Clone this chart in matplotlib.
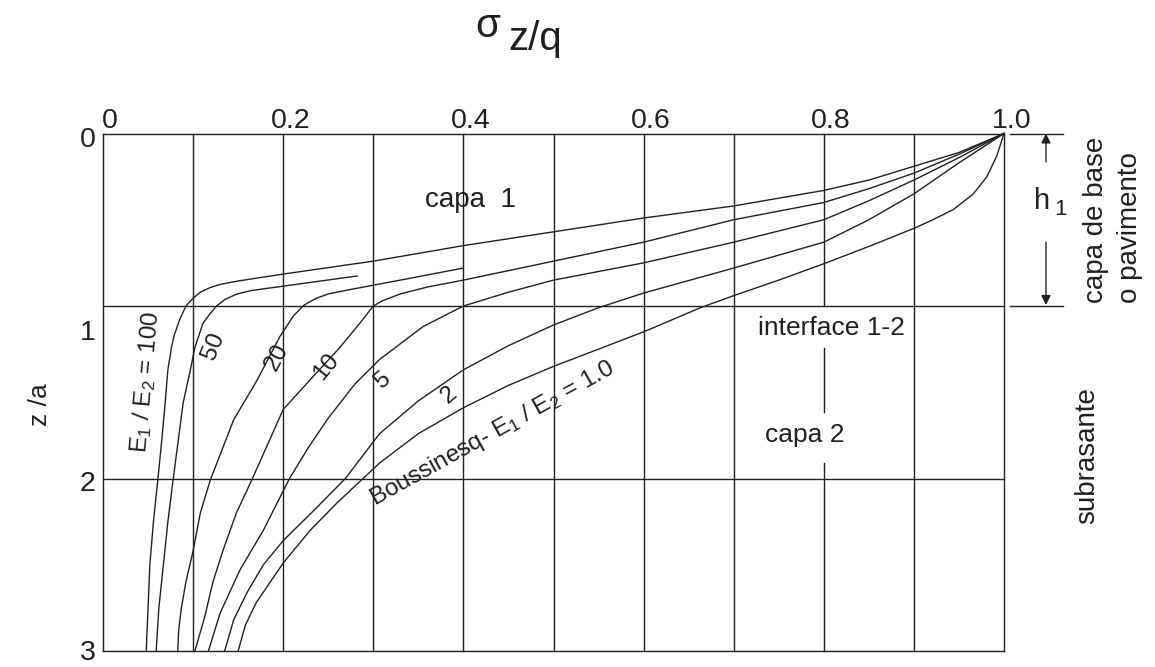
import matplotlib
matplotlib.use("Agg")
import matplotlib.pyplot as plt

plt.rcParams["font.family"] = ["Liberation Sans", "DejaVu Sans"]
plt.rcParams["mathtext.fontset"] = "custom"
plt.rcParams["mathtext.rm"] = "Liberation Sans"
plt.rcParams["mathtext.it"] = "Liberation Sans:italic"

# sigma_z/q (s) against depth z/a (z), one pair per curve
s_100 = [1.0, 0.95, 0.9, 0.85, 0.8, 0.7, 0.6, 0.5, 0.4, 0.3, 0.2, 0.15, 0.13, 0.119, 0.108,
         0.1, 0.092, 0.085, 0.079, 0.076, 0.072, 0.069, 0.065, 0.061, 0.056, 0.052, 0.05, 0.048]
z_100 = [0.0, 0.11, 0.19, 0.27, 0.33, 0.42, 0.49, 0.57, 0.65, 0.74, 0.815, 0.855, 0.875, 0.893, 0.92,
         0.955, 1.0, 1.08, 1.17, 1.24, 1.37, 1.56, 1.79, 2.0, 2.25, 2.5, 2.75, 3.0]

s_50 = [0.282, 0.2, 0.165, 0.149, 0.136, 0.126, 0.118, 0.111, 0.102, 0.097, 0.089, 0.078,
        0.072, 0.067, 0.062, 0.059]
z_50 = [0.826, 0.885, 0.91, 0.93, 0.96, 1.0, 1.05, 1.10, 1.24, 1.37, 1.56, 2.0,
        2.25, 2.5, 2.75, 3.0]

s_20 = [0.4, 0.33, 0.274, 0.25, 0.237, 0.228, 0.222, 0.211, 0.196, 0.171, 0.145, 0.119,
        0.108, 0.1, 0.092, 0.087, 0.084, 0.083]
z_20 = [0.78, 0.85, 0.905, 0.93, 0.955, 0.98, 1.0, 1.06, 1.18, 1.43, 1.66, 2.01,
        2.2, 2.42, 2.6, 2.75, 2.88, 3.0]

s_10 = [1.0, 0.95, 0.9, 0.85, 0.8, 0.7, 0.6, 0.5, 0.4, 0.36, 0.33, 0.31, 0.3, 0.285, 0.263,
        0.233, 0.2, 0.165, 0.148, 0.133, 0.122, 0.113, 0.102]
z_10 = [0.0, 0.12, 0.23, 0.32, 0.40, 0.50, 0.63, 0.74, 0.85, 0.89, 0.93, 0.97, 1.0, 1.1, 1.24,
        1.41, 1.6, 2.01, 2.2, 2.42, 2.6, 2.8, 3.0]

s_5 = [1.0, 0.95, 0.9, 0.85, 0.8, 0.7, 0.6, 0.5, 0.45, 0.4, 0.355, 0.307, 0.28, 0.25, 0.228,
       0.207, 0.178, 0.152, 0.13, 0.117]
z_5 = [0.0, 0.14, 0.27, 0.39, 0.50, 0.63, 0.75, 0.85, 0.92, 1.0, 1.12, 1.31, 1.45, 1.65, 1.82,
       2.0, 2.3, 2.53, 2.78, 3.0]

s_2 = [1.0, 0.95, 0.9, 0.85, 0.8, 0.7, 0.6, 0.55, 0.5, 0.45, 0.4, 0.35, 0.307, 0.269, 0.235,
       0.2, 0.178, 0.16, 0.145, 0.135]
z_2 = [0.0, 0.17, 0.35, 0.50, 0.63, 0.78, 0.925, 1.01, 1.11, 1.23, 1.37, 1.55, 1.74, 2.0, 2.18,
       2.36, 2.5, 2.66, 2.82, 3.0]

s_b = [1.0, 0.992, 0.981, 0.966, 0.944, 0.921, 0.9, 0.85, 0.8, 0.75, 0.7, 0.663, 0.6, 0.55,
       0.5, 0.45, 0.4, 0.35, 0.307, 0.26, 0.23, 0.2, 0.17, 0.158, 0.15]
z_b = [0.0, 0.13, 0.25, 0.35, 0.44, 0.50, 0.55, 0.655, 0.755, 0.85, 0.94, 1.01, 1.15, 1.25,
       1.35, 1.46, 1.59, 1.74, 1.91, 2.14, 2.3, 2.49, 2.72, 2.85, 3.0]

x_ticks = [0, 0.2, 0.4, 0.6, 0.8, 1.0]
x_tick_labels = ["0", "0.2", "0.4", "0.6", "0.8", "1.0"]
z_ticks = [0, 1, 2, 3]

INK = "#231f20"
LW = 1.0

fig = plt.figure(figsize=(11.55, 6.67), dpi=100)
ax = fig.add_axes([103 / 1155, 1 - 651 / 667, 901 / 1155, (651 - 133.5) / 667])
ax.set_xlim(0, 1.0)
ax.set_ylim(3, 0)
ax.axis("off")

# grid
for g in [0.0, 0.1, 0.2, 0.3, 0.4, 0.5, 0.6, 0.7, 0.9, 1.0]:
    ax.plot([g, g], [0, 3], color=INK, lw=LW, clip_on=False)
# the 0.8 line is broken around "interface 1-2" and "capa 2"
for z0, z1 in [(0, 1), (1.243, 1.614), (1.91, 3)]:
    ax.plot([0.8, 0.8], [z0, z1], color=INK, lw=LW, clip_on=False)
for zz in z_ticks:
    ax.plot([0, 1], [zz, zz], color=INK, lw=LW, clip_on=False)

for s, z in [(s_100, z_100), (s_50, z_50), (s_20, z_20), (s_10, z_10),
             (s_5, z_5), (s_2, z_2), (s_b, z_b)]:
    ax.plot(s, z, color=INK, lw=LW, solid_joinstyle="round", clip_on=False)

# tick labels
for x, lab in zip(x_ticks, x_tick_labels):
    ax.text(x + 0.008, -0.032, lab, ha="center", va="baseline", fontsize=20.5,
            color=INK, clip_on=False)
for zz, zc in zip(z_ticks, [0.038, 1.157, 2.03, 3.01]):
    ax.text(-0.017, zc, str(zz), ha="center", va="center", fontsize=20.5, color=INK,
            clip_on=False)

# axis titles
fig.text(475 / 1155, 1 - 26 / 667, "σ", fontsize=29, color=INK, ha="left", va="center")
fig.text(508 / 1155, 1 - 50 / 667, "z/q", fontsize=29, color=INK, ha="left", va="baseline")
fig.text(40 / 1155, 1 - 405 / 667, "z /a", fontsize=19, color=INK, ha="center",
         va="center", rotation=90)

# curve labels
lab_kw = dict(fontsize=17.5, color=INK, ha="center", va="center")
ax.text(0.048, 1.44, "E$_1$ / E$_2$ = 100", rotation=85, **lab_kw)
ax.text(0.123, 1.232, "50", rotation=68, **lab_kw)
ax.text(0.193, 1.296, "20", rotation=62, **lab_kw)
ax.text(0.2475, 1.354, "10", rotation=50, **lab_kw)
ax.text(0.311, 1.43, "5", rotation=42, **lab_kw)
ax.text(0.384, 1.516, "2", rotation=40, **lab_kw)
ax.text(0.432, 1.742, "Boussinesq- E$_1$ / E$_2$ = 1.0", rotation=29, **lab_kw)

ax.text(0.408, 0.386, "capa  1", fontsize=20, color=INK, ha="center", va="center")
ax.text(0.808, 1.128, "interface 1-2", fontsize=19, color=INK, ha="center", va="center")
ax.text(0.779, 1.748, "capa 2", fontsize=19, color=INK, ha="center", va="center")

# h1 dimension on the right
ax.plot([1.0067, 1.0655], [0, 0], color=INK, lw=LW, clip_on=False)
ax.plot([1.0067, 1.0655], [1, 1], color=INK, lw=LW, clip_on=False)
ax.annotate("", xy=(1.0466, 0.0), xytext=(1.0466, 0.165),
            arrowprops=dict(arrowstyle="-|>", color=INK, lw=LW, mutation_scale=14,
                            shrinkA=0, shrinkB=0), annotation_clip=False)
ax.annotate("", xy=(1.0466, 0.994), xytext=(1.0466, 0.63),
            arrowprops=dict(arrowstyle="-|>", color=INK, lw=LW, mutation_scale=14,
                            shrinkA=0, shrinkB=0), annotation_clip=False)
ax.text(1.042, 0.39, "h", fontsize=21, color=INK, ha="center", va="center", clip_on=False)
ax.text(1.063, 0.44, "1", fontsize=16, color=INK, ha="center", va="center", clip_on=False)

fig.text(1096 / 1155, 1 - 303 / 667, "capa de base", rotation=90, fontsize=20,
         color=INK, ha="center", va="bottom")
fig.text(1130 / 1155, 1 - 303 / 667, "o pavimento", rotation=90, fontsize=20,
         color=INK, ha="center", va="bottom")
fig.text(1087 / 1155, 1 - 456 / 667, "subrasante", rotation=90, fontsize=20,
         color=INK, ha="center", va="center")

fig.savefig("out.png", dpi=100)
